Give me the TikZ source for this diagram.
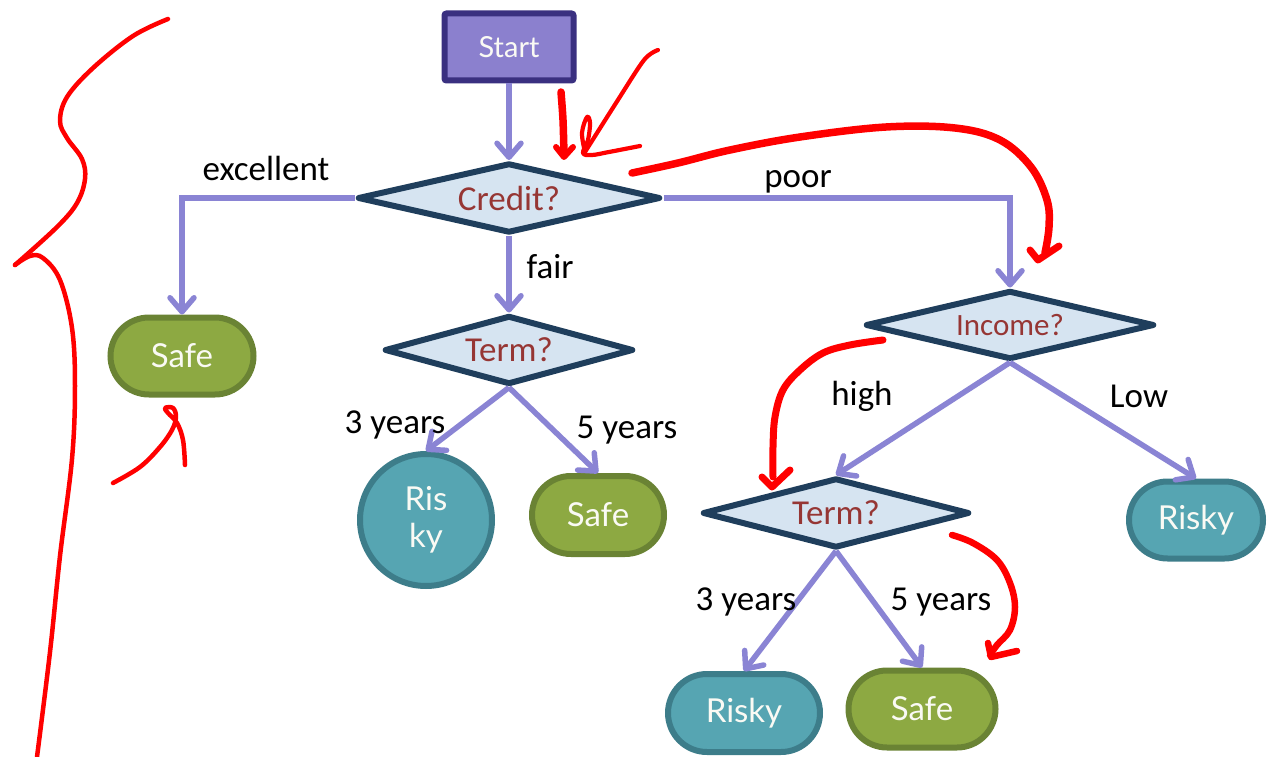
\documentclass[tikz,border=0pt]{standalone}
\usepackage{fontspec}
\setmainfont{Lato}
\newfontfamily\qfamily{Carlito}
\usetikzlibrary{shapes.geometric,shapes.misc,arrows.meta}

\definecolor{flowc}{RGB}{138,132,212}
\definecolor{startfill}{RGB}{139,128,206}
\definecolor{startline}{RGB}{58,48,128}
\definecolor{decfill}{RGB}{214,228,241}
\definecolor{decline}{RGB}{31,62,92}
\definecolor{dectext}{RGB}{150,54,52}
\definecolor{safefill}{RGB}{141,169,66}
\definecolor{safeline}{RGB}{106,131,52}
\definecolor{riskyfill}{RGB}{86,165,178}
\definecolor{riskyline}{RGB}{61,125,138}
\definecolor{nodetext}{RGB}{250,250,244}
\definecolor{inkred}{RGB}{255,0,0}

\newcommand\fntNode{\fontsize{33}{37}\selectfont}
\newcommand\fntStart{\fontsize{29}{33}\selectfont}
\newcommand\fntQ{\qfamily\fontsize{35}{40}\selectfont}
\newcommand\fntLbl{\qfamily\fontsize{35}{40}\selectfont}

\begin{document}
\begin{tikzpicture}[x=1pt,y=-1pt,
  flow/.style={draw=flowc, line width=5.5pt,
    -{Straight Barb[length=14pt,width=24pt,round]}},
  startbox/.style={rectangle, draw=startline, fill=startfill, line width=6pt,
    rounded corners=2pt, text=nodetext, font=\fntStart, inner sep=0pt},
  decision/.style={diamond, draw=decline, fill=decfill, text=dectext,
    line width=6pt, line join=round, inner sep=0pt, font=\fntQ},
  safebox/.style={rounded rectangle, draw=safeline, fill=safefill,
    line width=6pt, text=nodetext, font=\fntNode, inner sep=0pt},
  riskybox/.style={rounded rectangle, draw=riskyline, fill=riskyfill,
    line width=6pt, text=nodetext, font=\fntNode, inner sep=0pt},
  riskycircle/.style={circle, draw=riskyline, fill=riskyfill,
    line width=6pt, text=nodetext, font=\fntNode, inner sep=0pt, align=center},
  lbl/.style={anchor=base, font=\fntLbl, inner sep=0pt},
  ink/.style={draw=inkred, line cap=round, line join=round, line width=4pt}
]
\useasboundingbox (0,0) rectangle (1275,757);

% --- nodes of the tree ---
\node[startbox, minimum width=129pt, minimum height=67pt] (start) at (509,47) {Start};
\node[decision, aspect=4.26, minimum width=303pt, minimum height=70pt] (credit) at (509,198) {Credit?};
\node[safebox, minimum width=143pt, minimum height=77pt] (safe1) at (182,356) {Safe};
\node[decision, aspect=3.56, minimum width=249pt, minimum height=69pt] (term1) at (509,350) {Term?};
\node[riskycircle, minimum size=132pt] (risky1) at (426,520) {Ris\\ky};
\node[safebox, minimum width=132pt, minimum height=78pt] (safe2) at (598,515) {Safe};
\node[decision, aspect=4.1, minimum width=289pt, minimum height=69pt,
      font=\qfamily\fontsize{31}{36}\selectfont] (income) at (1010,325) {Income?};
\node[riskybox, minimum width=134pt, minimum height=77pt] (risky2) at (1196,520) {Risky};
\node[decision, aspect=3.76, minimum width=267pt, minimum height=70pt] (term2) at (836,513) {Term?};
\node[riskybox, minimum width=152pt, minimum height=78pt] (risky3) at (744,713) {Risky};
\node[safebox, minimum width=147pt, minimum height=77pt] (safe3) at (922,709) {Safe};

% --- connectors ---
\draw[flow] (start.south) -- (credit.north);
\draw[flow] (credit.west) -| (safe1.north);
\draw[flow] (credit.south) -- (term1.north);
\draw[flow] (credit.east) -| (income.north);
\draw[flow] (term1.south) -- (risky1.north);
\draw[flow] (term1.south) -- (safe2.north);
\draw[flow] (income.south) -- (term2.north);
\draw[flow] (income.south) -- (risky2.north);
\draw[flow] (term2.south) -- (risky3.north);
\draw[flow] (term2.south) -- (safe3.north);

% --- branch labels ---
\node[lbl] (lexc) at (266,181) {excellent};
\node[lbl] (lfair) at (550,278) {fair};
\node[lbl] (lpoor) at (798,187) {poor};
\node[lbl] (l3a) at (395,433) {3 years};
\node[lbl] (l5a) at (627,438) {5 years};
\node[lbl] (lhigh) at (862,405) {high};
\node[lbl] (llow) at (1139,407) {Low};
\node[lbl] (l3b) at (746,610) {3 years};
\node[lbl] (l5b) at (941,610) {5 years};

% --- red pen strokes ---
% brace on the left
\draw[ink, line width=4.5pt] plot[smooth, tension=0.6] coordinates {
  (168,19) (133,36) (93,68) (67,97) (60,121) (67,138) (82,159) (85,179)
  (77,203) (57,227) (15,265)};
\draw[ink, line width=4.5pt] plot[smooth, tension=0.6] coordinates {
  (15,265) (30,256) (43,258) (60,280) (72,328) (75,386) (72,459)
  (60,556) (50,652) (37,757)};
% flourish under the first Safe
\draw[ink, line width=4.5pt] plot[smooth, tension=0.6] coordinates {
  (113,483) (140,467) (160,447) (172,430) (176,417) (173,408) (165,408)
  (168,413) (177,423) (183,440) (185,465)};
% arrows beside Start
\draw[ink, line width=7.5pt] plot[smooth, tension=0.5] coordinates {
  (561,92) (563,120) (564,155)};
\draw[ink, line width=6pt] (556,147) -- (564,157) -- (573,147);
\draw[ink, line width=4.2pt] plot[smooth, tension=0.5] coordinates {
  (658,50) (644,60) (616,103) (585,152)};
\draw[ink, line width=4.2pt] plot[smooth, tension=0.6] coordinates {
  (585,152) (582,133) (587,117) (590,123) (588,140) (583,153)
  (592,155) (609,152) (640,146)};
% long arc toward Income
\draw[ink, line width=7.5pt] plot[smooth, tension=0.6] coordinates {
  (632,173) (678,163) (730,150) (800,137) (886,127) (955,128) (1000,140)
  (1031,167) (1047,200) (1049,227) (1045,253)};
\draw[ink, line width=7pt] (1030,250) -- (1038,260) -- (1059,246);
% arc toward the second Term
\draw[ink, line width=7pt] plot[smooth, tension=0.6] coordinates {
  (883,340) (850,345) (823,353) (800,370) (783,390) (775,417) (773,447) (773,477)};
\draw[ink, line width=7pt] (762,477) -- (772,487) -- (790,470);
% arc toward the last Safe
\draw[ink, line width=6.5pt] plot[smooth, tension=0.6] coordinates {
  (952,535) (973,543) (997,560) (1010,583) (1015,607) (1010,630) (997,645) (990,655)};
\draw[ink, line width=6.5pt] (988,643) -- (991,657) -- (1017,651);
\end{tikzpicture}
\end{document}
